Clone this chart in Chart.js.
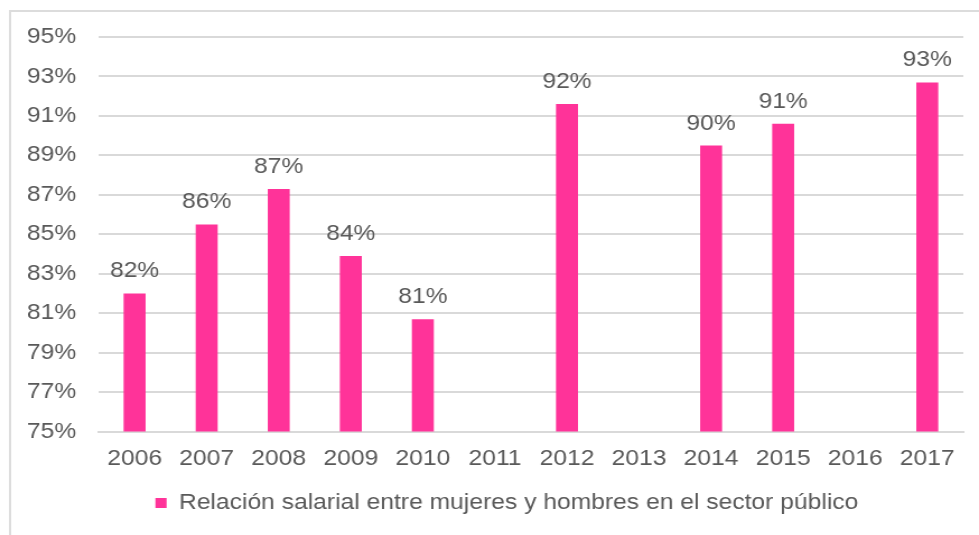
<!DOCTYPE html>
<html>
<head>
<meta charset="utf-8">
<script src="https://cdn.jsdelivr.net/npm/chart.js@4.4.1/dist/chart.umd.min.js"></script>
<style>
  html, body { margin: 0; padding: 0; background: #ffffff; }
  #wrap { position: relative; width: 979px; height: 535px; overflow: hidden; }
</style>
</head>
<body>
<div id="wrap"><canvas id="c" width="874" height="535" style="width:979px;height:535px;display:block;"></canvas></div>
<script>
const categories = ["2006","2007","2008","2009","2010","2011","2012","2013","2014","2015","2016","2017"];
const values = [82.0, 85.5, 87.3, 83.9, 80.7, null, 91.6, null, 89.5, 90.6, null, 92.7];
const seriesName = "Relación salarial entre mujeres y hombres en el sector público";
const yMin = 75, yMax = 95, yStep = 2;

const FONT = "'Liberation Sans', Arial, sans-serif";
const TEXT = "#595959";
const PINK = "#FF3399";
const GRID = "#d9d9d9";

const frame = {
  id: 'frame',
  beforeDraw(chart) {
    const ctx = chart.ctx;
    ctx.save();
    ctx.strokeStyle = "#dcdcdc";
    ctx.lineWidth = 2;
    ctx.strokeRect(9, 11, 1000, 1000);
    ctx.restore();
  }
};

const legendShift = {
  id: 'legendShift',
  afterLayout(chart) {
    if (chart.legend) { chart.legend.left = 45; }
  }
};

const dataLabels = {
  id: 'dataLabels',
  afterDatasetsDraw(chart) {
    const ctx = chart.ctx;
    const meta = chart.getDatasetMeta(0);
    ctx.save();
    ctx.fillStyle = TEXT;
    ctx.font = "22px " + FONT;
    ctx.textAlign = "center";
    ctx.textBaseline = "alphabetic";
    meta.data.forEach((el, i) => {
      const v = chart.data.datasets[0].data[i];
      if (v === null || v === undefined) return;
      ctx.fillText(Math.round(v) + "%", el.x, el.y - 16);
    });
    ctx.restore();
  }
};

new Chart(document.getElementById('c'), {
  type: 'bar',
  data: {
    labels: categories,
    datasets: [{
      label: seriesName,
      data: values,
      backgroundColor: PINK,
      borderWidth: 0,
      barPercentage: 0.61,
      categoryPercentage: 0.5
    }]
  },
  options: {
    responsive: false,
    maintainAspectRatio: false,
    animation: false,
    devicePixelRatio: 1,
    layout: { padding: { top: 37, right: 14, left: 0, bottom: 11 } },
    plugins: {
      legend: {
        position: 'bottom',
        labels: {
          color: TEXT,
          font: { family: FONT, size: 22 },
          boxWidth: 10,
          boxHeight: 10,
          padding: 6,
          useBorderRadius: false
        }
      },
      tooltip: { enabled: false }
    },
    scales: {
      x: {
        grid: { display: false, drawTicks: false },
        border: { display: true, color: GRID, width: 2 },
        ticks: { color: TEXT, font: { family: FONT, size: 22 }, padding: 14, maxRotation: 0 }
      },
      y: {
        min: yMin, max: yMax,
        grid: { color: GRID, lineWidth: 2, drawTicks: false },
        border: { display: false },
        ticks: {
          stepSize: yStep,
          color: TEXT,
          font: { family: FONT, size: 22 },
          padding: 20,
          callback: v => v + "%"
        },
        afterFit(scale) { scale.width = 88; }
      }
    }
  },
  plugins: [frame, legendShift, dataLabels]
});
</script>
</body>
</html>
